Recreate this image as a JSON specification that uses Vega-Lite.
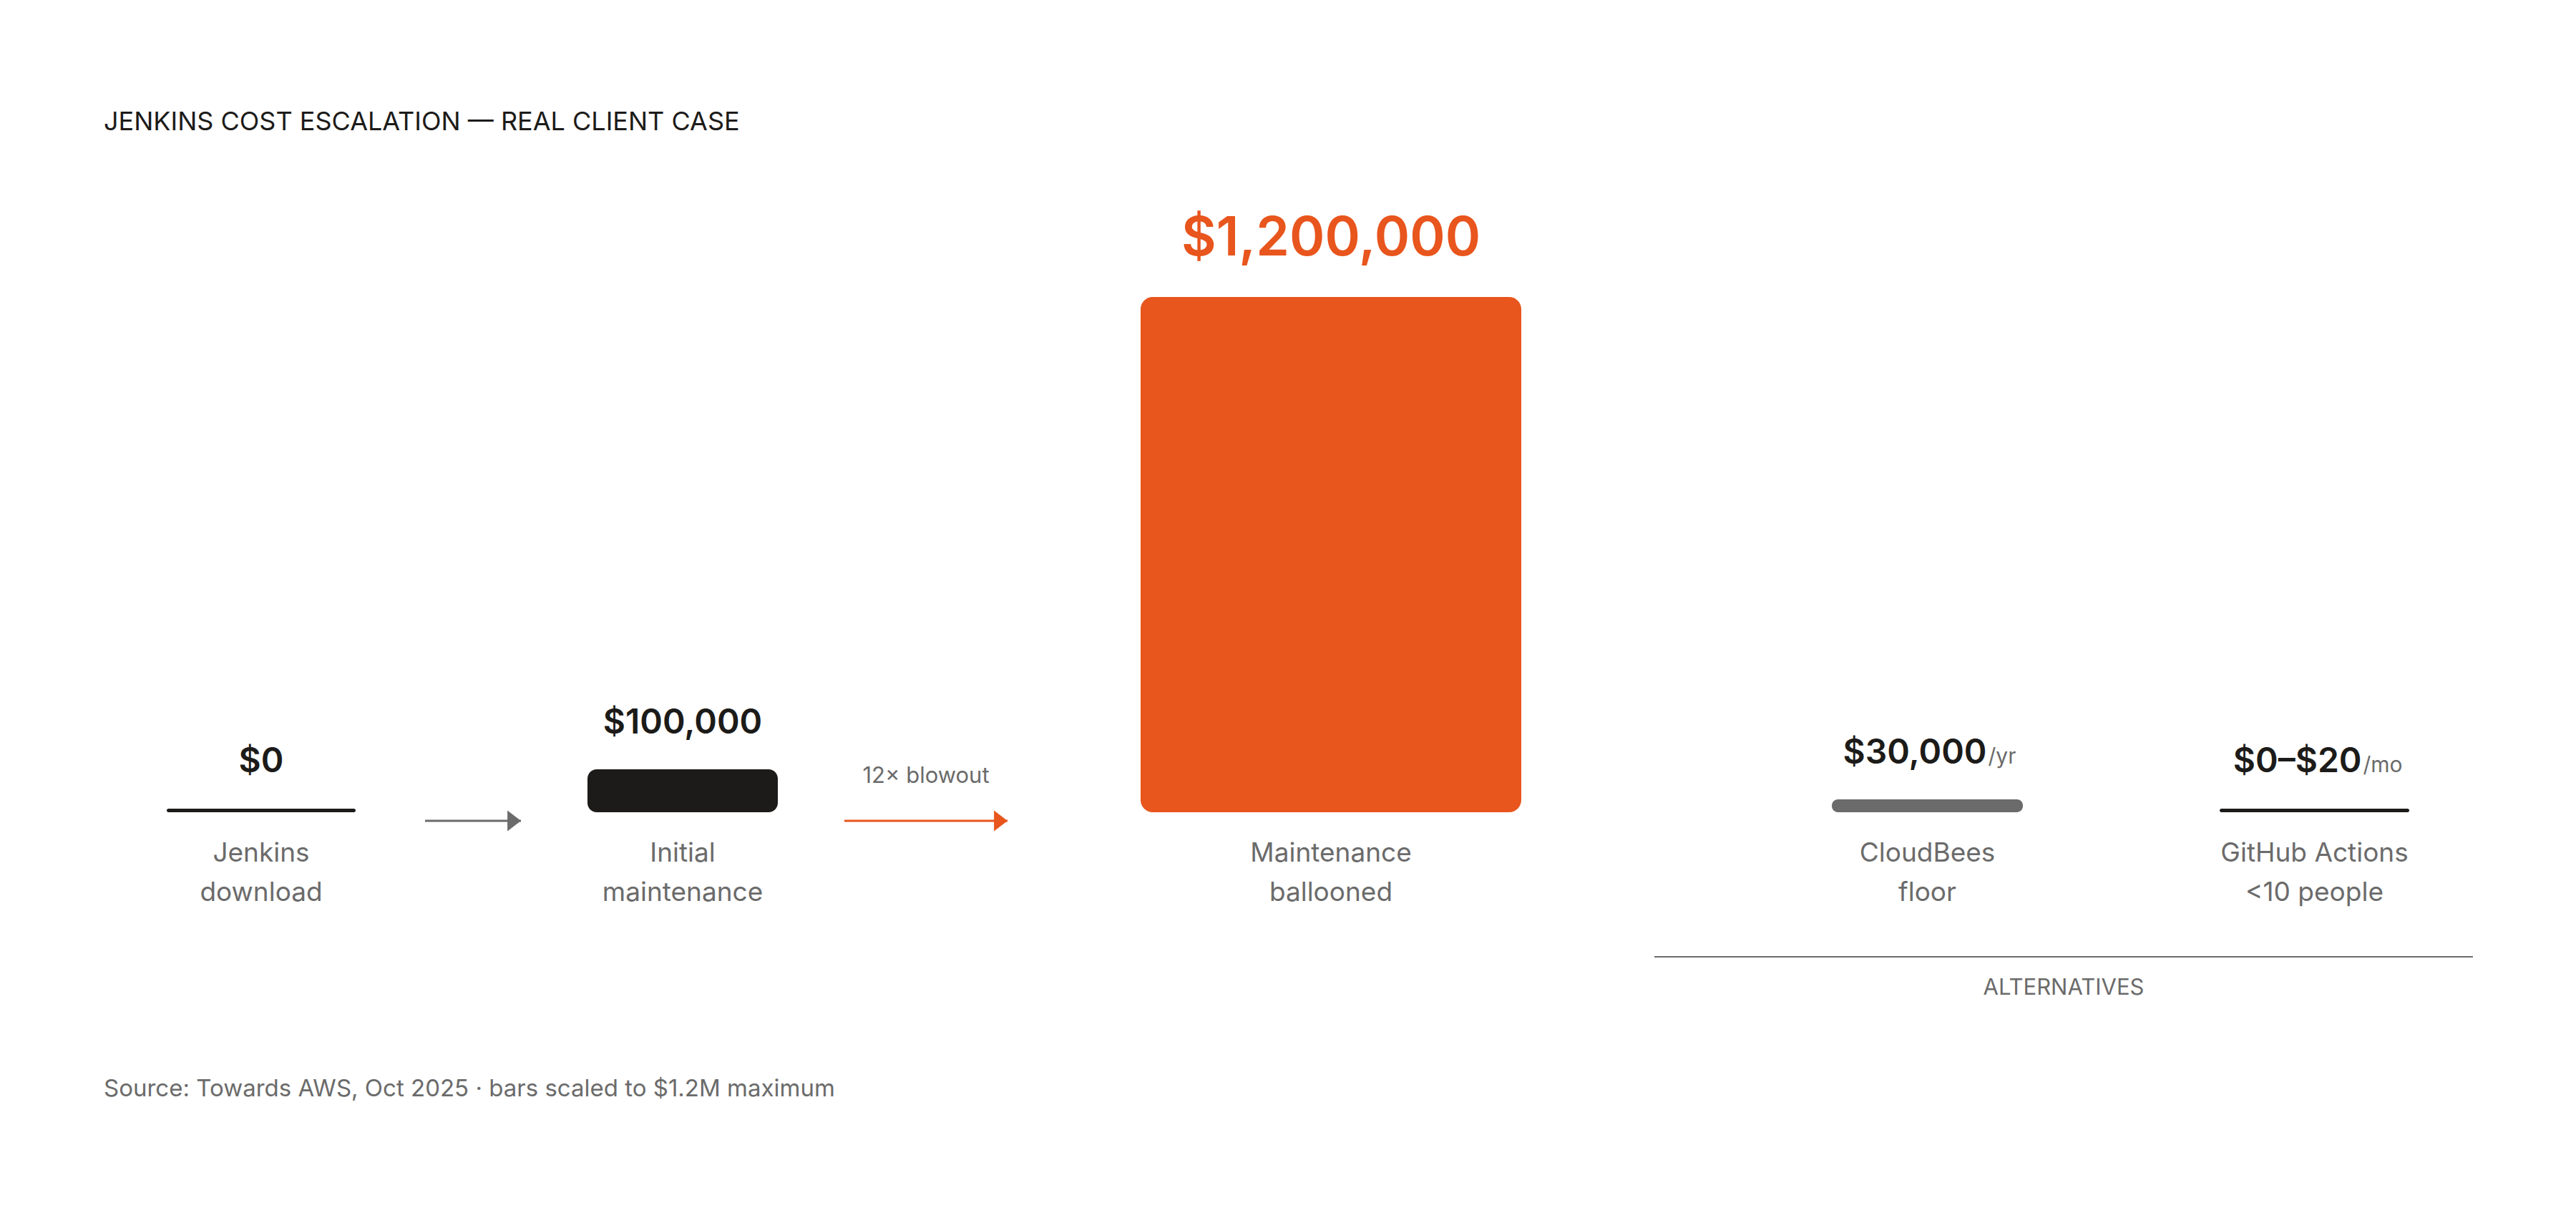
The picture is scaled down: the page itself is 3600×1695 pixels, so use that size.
{
  "$schema": "https://vega.github.io/schema/vega-lite/v6.json",
  "background": "white",
  "padding": {"left": 145, "top": 153, "right": 144, "bottom": 120},
  "config": {"font": "Inter", "view": {"stroke": null}},
  "title": {
    "text": "JENKINS COST ESCALATION — REAL CLIENT CASE",
    "anchor": "start",
    "frame": "group",
    "fontSize": 36,
    "fontWeight": 400,
    "color": "#1c1b19",
    "offset": 107
  },
  "datasets": {
    "costs": [
      {"item": "Jenkins download", "label": "Jenkins\ndownload", "value": 0, "text": "$0", "unit": "", "group": "JENKINS"},
      {"item": "Initial maintenance", "label": "Initial\nmaintenance", "value": 100000, "text": "$100,000", "unit": "", "group": "JENKINS"},
      {"item": "Maintenance ballooned", "label": "Maintenance\nballooned", "value": 1200000, "text": "$1,200,000", "unit": "", "group": "JENKINS"},
      {"item": "CloudBees floor", "label": "CloudBees\nfloor", "value": 30000, "text": "$30,000", "unit": "/yr", "group": "ALTERNATIVES"},
      {"item": "GitHub Actions <10 people", "label": "GitHub Actions\n<10 people", "value": 20, "text": "$0–$20", "unit": "/mo", "group": "ALTERNATIVES"}
    ],
    "arrows": [
      {"step": "download to initial", "note": ""},
      {"step": "initial to ballooned", "note": "12× blowout"}
    ]
  },
  "vconcat": [
    {
      "title": {
        "text": "Source: Towards AWS, Oct 2025  ·  bars scaled to $1.2M maximum",
        "orient": "bottom",
        "anchor": "start",
        "frame": "group",
        "fontSize": 33,
        "fontWeight": 400,
        "color": "#6b6b6b",
        "offset": 110
      },
      "spacing": 9,
      "bounds": "flush",
      "hconcat": [
        {
          "width": 440,
          "height": 720,
          "data": {"name": "costs"},
          "transform": [{"filter": "datum.item === 'Jenkins download'"}],
          "encoding": {
            "x": {"field": "item", "type": "nominal", "axis": null, "scale": {"type": "point"}},
            "y": {"field": "value", "type": "quantitative", "axis": null, "scale": {"domain": [0, 1200000], "nice": false}}
          },
          "layer": [
            {"mark": {"type": "tick", "orient": "horizontal", "size": 264, "thickness": 5, "cornerRadius": 2.5, "color": "#1c1b19", "opacity": 1, "yOffset": -2.5}},
            {"mark": {"type": "text", "fontSize": 48, "fontWeight": 600, "color": "#1c1b19", "baseline": "alphabetic", "dy": -56},
             "encoding": {"text": {"field": "text"}}},
            {"mark": {"type": "text", "fontSize": 37, "color": "#6b6b6b", "baseline": "alphabetic", "dy": 69, "lineBreak": "\n", "lineHeight": 55},
             "encoding": {"y": {"datum": 0, "type": "quantitative"}, "text": {"field": "label"}}}
          ]
        },
        {
          "width": 134,
          "height": 720,
          "data": {"name": "arrows"},
          "transform": [{"filter": "datum.step === 'download to initial'"}],
          "encoding": {
            "y": {"datum": 0, "type": "quantitative", "axis": null, "scale": {"domain": [0, 1200000], "nice": false}}
          },
          "layer": [
            {"mark": {"type": "rule", "color": "#6b6b6b", "strokeWidth": 3, "yOffset": 12},
             "encoding": {
               "x": {"datum": 0, "type": "quantitative", "axis": null, "scale": {"domain": [0, 1], "nice": false}},
               "x2": {"datum": 1}
             }},
            {"mark": {"type": "point", "shape": "M-1.3,-1L0,0L-1.3,1Z", "filled": true, "size": 841, "color": "#6b6b6b", "opacity": 1, "yOffset": 12},
             "encoding": {"x": {"datum": 1, "type": "quantitative"}}}
          ]
        },
        {
          "width": 434,
          "height": 720,
          "data": {"name": "costs"},
          "transform": [{"filter": "datum.item === 'Initial maintenance'"}],
          "encoding": {
            "x": {"field": "item", "type": "nominal", "axis": null, "scale": {"type": "point"}},
            "y": {"field": "value", "type": "quantitative", "axis": null, "scale": {"domain": [0, 1200000], "nice": false}}
          },
          "layer": [
            {"mark": {"type": "bar", "width": 266, "cornerRadius": 13, "color": "#1c1b19"}},
            {"mark": {"type": "text", "fontSize": 48, "fontWeight": 600, "color": "#1c1b19", "baseline": "alphabetic", "dy": -50},
             "encoding": {"text": {"field": "text"}}},
            {"mark": {"type": "text", "fontSize": 37, "color": "#6b6b6b", "baseline": "alphabetic", "dy": 69, "lineBreak": "\n", "lineHeight": 55},
             "encoding": {"y": {"datum": 0, "type": "quantitative"}, "text": {"field": "label"}}}
          ]
        },
        {
          "width": 228,
          "height": 720,
          "data": {"name": "arrows"},
          "transform": [{"filter": "datum.step === 'initial to ballooned'"}],
          "encoding": {
            "y": {"datum": 0, "type": "quantitative", "axis": null, "scale": {"domain": [0, 1200000], "nice": false}}
          },
          "layer": [
            {"mark": {"type": "rule", "color": "#e8551d", "strokeWidth": 3, "yOffset": 12},
             "encoding": {
               "x": {"datum": 0, "type": "quantitative", "axis": null, "scale": {"domain": [0, 1], "nice": false}},
               "x2": {"datum": 1}
             }},
            {"mark": {"type": "point", "shape": "M-1.3,-1L0,0L-1.3,1Z", "filled": true, "size": 841, "color": "#e8551d", "opacity": 1, "yOffset": 12},
             "encoding": {"x": {"datum": 1, "type": "quantitative"}}},
            {"mark": {"type": "text", "fontSize": 31, "color": "#6b6b6b", "baseline": "alphabetic", "dy": -41},
             "encoding": {"text": {"field": "note"}}}
          ]
        },
        {
          "width": 886,
          "height": 720,
          "data": {"name": "costs"},
          "transform": [{"filter": "datum.item === 'Maintenance ballooned'"}],
          "encoding": {
            "x": {"field": "item", "type": "nominal", "axis": null, "scale": {"type": "point"}},
            "y": {"field": "value", "type": "quantitative", "axis": null, "scale": {"domain": [0, 1200000], "nice": false}}
          },
          "layer": [
            {"mark": {"type": "bar", "width": 532, "cornerRadius": 17, "color": "#e8551d"}},
            {"mark": {"type": "text", "fontSize": 75, "fontWeight": 600, "color": "#e8551d", "baseline": "alphabetic", "dy": -58},
             "encoding": {"text": {"field": "text"}}},
            {"mark": {"type": "text", "fontSize": 37, "color": "#6b6b6b", "baseline": "alphabetic", "dy": 69, "lineBreak": "\n", "lineHeight": 55},
             "encoding": {"y": {"datum": 0, "type": "quantitative"}, "text": {"field": "label"}}}
          ]
        },
        {
          "width": 1144,
          "height": 720,
          "data": {"name": "costs"},
          "transform": [{"filter": "datum.group === 'ALTERNATIVES'"}],
          "resolve": {"scale": {"x": "independent"}},
          "layer": [
            {
              "encoding": {
                "x": {"field": "item", "type": "nominal", "axis": null, "scale": {"type": "point", "padding": 0.5573, "align": 0.6327, "domain": ["CloudBees floor", "GitHub Actions <10 people"]}},
                "y": {"field": "value", "type": "quantitative", "axis": null, "scale": {"domain": [0, 1200000], "nice": false}}
              },
              "layer": [
                {"transform": [{"filter": "datum.item === 'CloudBees floor'"}],
                 "mark": {"type": "bar", "width": 267, "cornerRadius": 8.5, "color": "#6b6b6b"}},
                {"transform": [{"filter": "datum.item === 'GitHub Actions <10 people'"}],
                 "mark": {"type": "tick", "orient": "horizontal", "size": 265, "thickness": 5, "cornerRadius": 2.5, "color": "#1c1b19", "opacity": 1, "yOffset": -2.5}},
                {"transform": [{"filter": "datum.item === 'CloudBees floor'"}],
                 "mark": {"type": "text", "fontSize": 48, "fontWeight": 600, "color": "#1c1b19", "baseline": "alphabetic", "align": "right", "dx": 83, "dy": -50},
                 "encoding": {"text": {"field": "text"}}},
                {"transform": [{"filter": "datum.item === 'CloudBees floor'"}],
                 "mark": {"type": "text", "fontSize": 30, "color": "#6b6b6b", "baseline": "alphabetic", "align": "left", "dx": 85, "dy": -50},
                 "encoding": {"text": {"field": "unit"}}},
                {"transform": [{"filter": "datum.item === 'GitHub Actions <10 people'"}],
                 "mark": {"type": "text", "fontSize": 48, "fontWeight": 600, "color": "#1c1b19", "baseline": "alphabetic", "align": "right", "dx": 66, "dy": -56},
                 "encoding": {"text": {"field": "text"}}},
                {"transform": [{"filter": "datum.item === 'GitHub Actions <10 people'"}],
                 "mark": {"type": "text", "fontSize": 30, "color": "#6b6b6b", "baseline": "alphabetic", "align": "left", "dx": 68, "dy": -56},
                 "encoding": {"text": {"field": "unit"}}},
                {"mark": {"type": "text", "fontSize": 37, "color": "#6b6b6b", "baseline": "alphabetic", "dy": 69, "lineBreak": "\n", "lineHeight": 55},
                 "encoding": {"y": {"datum": 0, "type": "quantitative"}, "text": {"field": "label"}}}
              ]
            },
            {
              "transform": [{"aggregate": [{"op": "max", "field": "value", "as": "value"}], "groupby": ["group"]}],
              "encoding": {
                "x": {"datum": 0, "type": "quantitative", "axis": null, "scale": {"domain": [0, 1], "nice": false}},
                "y": {"datum": 0, "type": "quantitative"}
              },
              "layer": [
                {"mark": {"type": "rule", "color": "#6b6b6b", "strokeWidth": 2, "yOffset": 202},
                 "encoding": {"x2": {"datum": 1}}},
                {"mark": {"type": "text", "fontSize": 31, "color": "#6b6b6b", "baseline": "alphabetic", "dy": 255},
                 "encoding": {"x": {"datum": 0.5, "type": "quantitative"}, "text": {"field": "group"}}}
              ]
            }
          ]
        }
      ]
    }
  ]
}
